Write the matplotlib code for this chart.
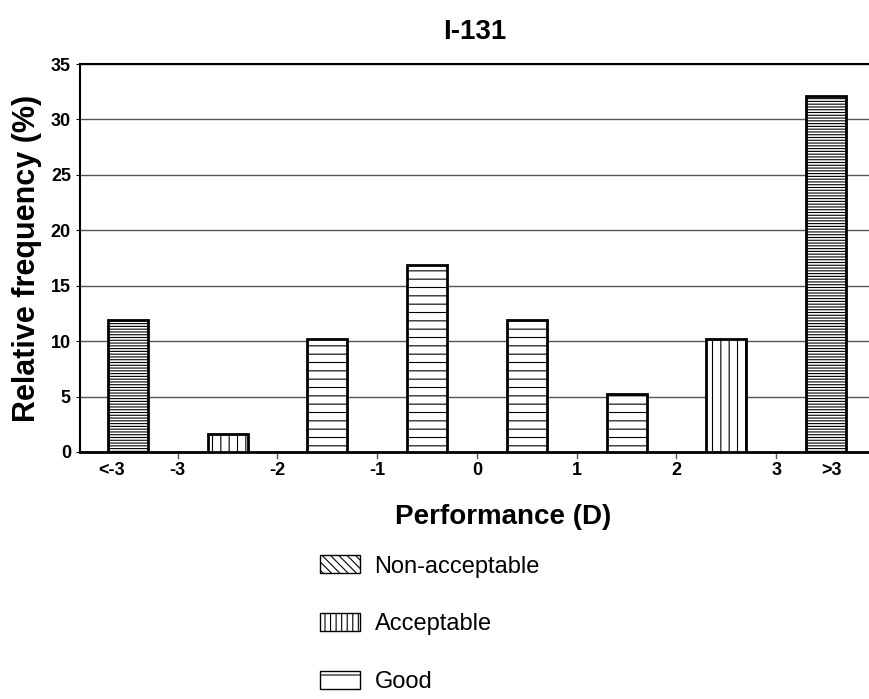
import matplotlib
matplotlib.use("Agg")
import matplotlib.pyplot as plt
from matplotlib.patches import Patch

plt.rcParams['font.family'] = ['Liberation Sans', 'DejaVu Sans']
plt.rcParams['hatch.linewidth'] = 0.8

# bins of performance D, plotted at bin centres
centers = [-3.5, -2.5, -1.5, -0.5, 0.5, 1.5, 2.5, 3.5]
freq = [11.9, 1.6, 10.2, 16.9, 11.9, 5.2, 10.2, 32.1]
classes = ['Non-acceptable', 'Acceptable', 'Good', 'Good', 'Good', 'Good',
           'Acceptable', 'Non-acceptable']
tick_pos = [-3.66, -3, -2, -1, 0, 1, 2, 3, 3.55]
tick_lab = ['<-3', '-3', '-2', '-1', '0', '1', '2', '3', '>3']

bar_hatch = {'Non-acceptable': '------', 'Acceptable': '||', 'Good': '--'}
legend_hatch = {'Non-acceptable': '\\\\\\\\', 'Acceptable': '|||', 'Good': '-'}

fig = plt.figure(figsize=(8.69, 6.99), dpi=100)
ax = fig.add_axes([0.092, 0.3534, 0.908, 0.555])

for x, h, c in zip(centers, freq, classes):
    ax.bar(x, h, width=0.4, facecolor='white', edgecolor='black',
           linewidth=2, hatch=bar_hatch[c], zorder=3)

ax.set_xlim(-3.98, 3.93)
ax.set_ylim(0, 35)
ax.set_yticks(range(0, 36, 5))
ax.yaxis.grid(True, color='#555555', linewidth=1, zorder=0)
ax.set_xticks(tick_pos)
ax.set_xticklabels(tick_lab, fontsize=13, fontweight='bold')
ax.tick_params(axis='x', length=0, pad=7)
for t in [-3, -2, -1, 0, 1, 2, 3]:
    ax.plot([t, t], [0, -0.5], color='#555555', lw=1, clip_on=False)
for lab in ax.get_yticklabels():
    lab.set_fontsize(13)
    lab.set_fontweight('bold')
ax.tick_params(axis='y', length=3)

ax.spines['right'].set_visible(False)
ax.spines['top'].set_linewidth(1.5)
ax.spines['left'].set_linewidth(1.5)
ax.spines['bottom'].set_linewidth(2)

ax.set_title('I-131', fontsize=20, fontweight='bold', pad=18)
ax.set_ylabel('Relative frequency (%)', fontsize=22, fontweight='bold', labelpad=6)
ax.set_xlabel('Performance (D)', fontsize=20, fontweight='bold')
ax.xaxis.set_label_coords(0.536, -0.135)

handles = [Patch(facecolor='white', edgecolor='black', hatch=legend_hatch[k], label=k)
           for k in ['Non-acceptable', 'Acceptable', 'Good']]
fig.legend(handles=handles, loc='upper left', bbox_to_anchor=(0.344, 0.236),
           frameon=False, fontsize=17, labelspacing=1.5, handlelength=1.7,
           handleheight=0.8, handletextpad=0.6)

fig.savefig('out.png', dpi=100)
